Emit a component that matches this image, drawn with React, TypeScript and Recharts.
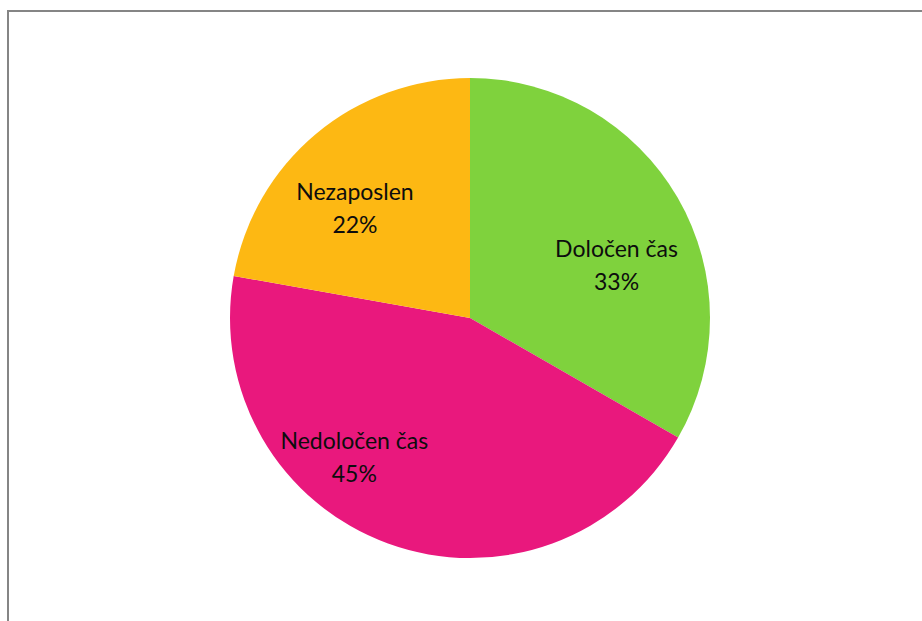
import { Cell, Pie, PieChart } from "recharts";

const categories = ["Določen čas", "Nedoločen čas", "Nezaposlen"];
const shares = [33.3, 44.5, 22.2];
const colors = ["#7FD23D", "#E9187D", "#FDB813"];

// Excel's best-fit labels don't sit exactly on the mid angle
const LABEL_NUDGE: Record<string, { angle: number; dist: number }> = {
  "Določen čas": { angle: -10, dist: 156 },
  "Nedoločen čas": { angle: -20, dist: 180 },
  Nezaposlen: { angle: 6, dist: 160 },
};

const data = categories.map((name, i) => ({ name, value: shares[i] }));

const RAD = Math.PI / 180;

function SliceLabel(props: any) {
  const { cx, cy, midAngle, name, value } = props;
  const nudge = LABEL_NUDGE[name] ?? { angle: 0, dist: 160 };
  const a = (midAngle + nudge.angle) * RAD;
  const x = cx + nudge.dist * Math.cos(a);
  const y = cy - nudge.dist * Math.sin(a);
  return (
    <text x={x} y={y} textAnchor="middle" fill="#0d0d0d" fontSize={23} fontFamily="Lato, 'Noto Sans', sans-serif">
      <tspan x={x} dy={-7}>{name}</tspan>
      <tspan x={x} dy={33}>{Math.round(value)}%</tspan>
    </text>
  );
}

export default function App() {
  return (
    <div style={{ position: "absolute", left: 0, top: 0, width: 922, height: 621, overflow: "hidden", background: "#fff" }}>
      <div style={{ position: "absolute", left: 7, top: 10, width: 960, height: 660, border: "2px solid #858585" }} />
      <div style={{ position: "absolute", left: 0, top: 0 }}>
        <PieChart width={922} height={621} margin={{ top: 0, right: 0, bottom: 0, left: 0 }}>
          <Pie
            data={data}
            dataKey="value"
            nameKey="name"
            cx={470}
            cy={318}
            outerRadius={240}
            startAngle={90}
            endAngle={-270}
            stroke="none"
            label={SliceLabel}
            labelLine={false}
            isAnimationActive={false}
          >
            {data.map((d, i) => (
              <Cell key={d.name} fill={colors[i]} />
            ))}
          </Pie>
        </PieChart>
      </div>
    </div>
  );
}
